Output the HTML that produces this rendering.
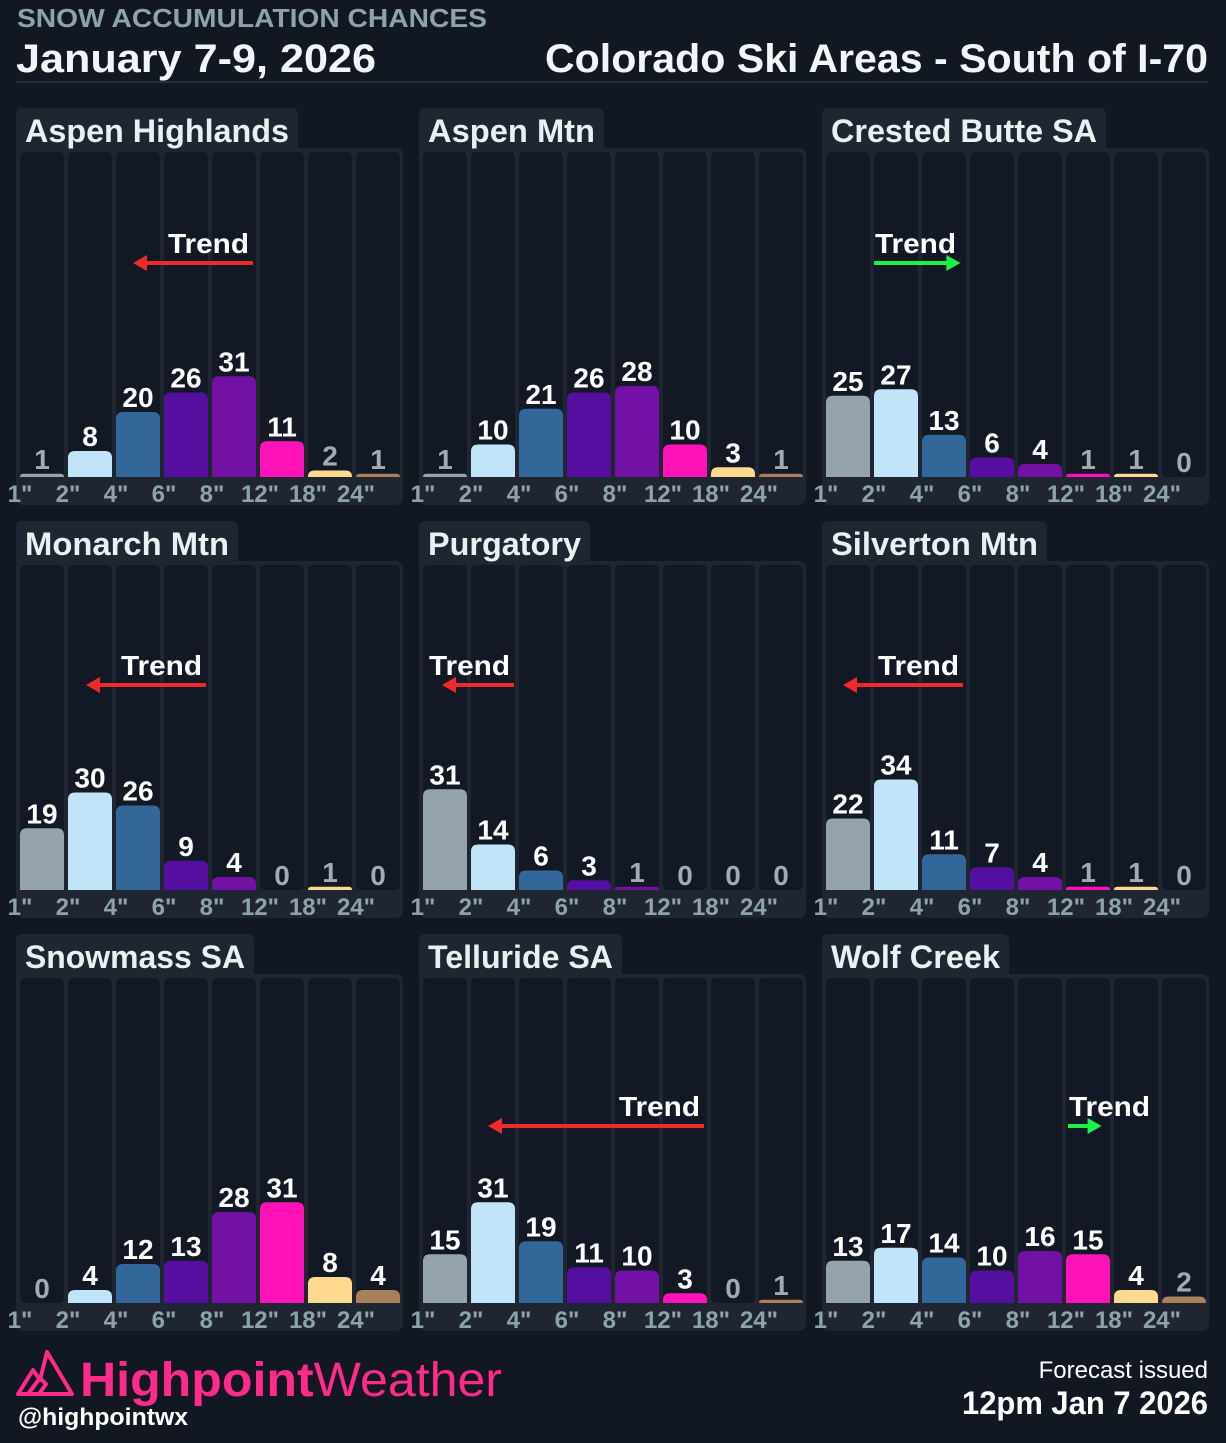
<!DOCTYPE html>
<html><head><meta charset="utf-8">
<style>
html,body{margin:0;padding:0;background:#111822;}
body{width:1226px;height:1438px;overflow:hidden;font-family:"Liberation Sans",sans-serif;}
svg text{font-family:"Liberation Sans",sans-serif;}
</style></head>
<body>
<svg id="chart" width="1226" height="1438" xmlns="http://www.w3.org/2000/svg">
  <rect x="0" y="0" width="1226" height="1438" fill="#111822"/>
  <text x="17" y="27" font-size="26" font-weight="bold" fill="#8ea2ac" textLength="470" lengthAdjust="spacingAndGlyphs">SNOW ACCUMULATION CHANCES</text>
  <text x="16" y="72" font-size="40" font-weight="bold" fill="#f2f5f7" textLength="360" lengthAdjust="spacingAndGlyphs">January 7-9, 2026</text>
  <text x="1208" y="72" font-size="40" font-weight="bold" fill="#f2f5f7" text-anchor="end" textLength="663" lengthAdjust="spacingAndGlyphs">Colorado Ski Areas - South of I-70</text>
  <rect x="16" y="81" width="1192" height="2" fill="#252e3a"/>
  <g id="panels"></g>
  <g>
    <path d="M18,1394 L33,1370 L40,1380 L47,1352 L72,1394 Z M28,1394 L40,1378 L46,1384 L39,1394" fill="none" stroke="#ff2a8a" stroke-width="4" stroke-linejoin="round"/>
    <text x="80" y="1396" font-size="48" fill="#ff2a8a" textLength="422" lengthAdjust="spacingAndGlyphs"><tspan font-weight="bold">Highpoint</tspan><tspan>Weather</tspan></text>
  </g>
  <text x="18" y="1425" font-size="24" font-weight="bold" fill="#ffffff" textLength="170" lengthAdjust="spacingAndGlyphs">@highpointwx</text>
  <text x="1208" y="1378" font-size="24" fill="#ffffff" text-anchor="end">Forecast issued</text>
  <text x="1208" y="1414" font-size="32" font-weight="bold" fill="#ffffff" text-anchor="end" textLength="246" lengthAdjust="spacingAndGlyphs">12pm Jan 7 2026</text>
</svg>
<script>
const categories = ['1"','2"','4"','6"','8"','12"','18"','24"'];
const areaNames = ["Aspen Highlands","Aspen Mtn","Crested Butte SA","Monarch Mtn","Purgatory","Silverton Mtn","Snowmass SA","Telluride SA","Wolf Creek"];
const aspenHighlands = [1,8,20,26,31,11,2,1];
const aspenMtn = [1,10,21,26,28,10,3,1];
const crestedButte = [25,27,13,6,4,1,1,0];
const monarch = [19,30,26,9,4,0,1,0];
const purgatory = [31,14,6,3,1,0,0,0];
const silverton = [22,34,11,7,4,1,1,0];
const snowmass = [0,4,12,13,28,31,8,4];
const telluride = [15,31,19,11,10,3,0,1];
const wolfCreek = [13,17,14,10,16,15,4,2];
const seriesValues = [aspenHighlands,aspenMtn,crestedButte,monarch,purgatory,silverton,snowmass,telluride,wolfCreek];
// trend direction: -1 = toward less snow, 1 = toward more, 0 = none
const trendDirection = [-1,0,1,-1,-1,-1,0,-1,1];
const trendLength = [2.5,0,1.8,2.5,1.5,2.5,0,4.5,0.7];
const colors = ["#95a3ad","#c2e4f8","#336699","#540fa0","#7310a6","#ff12b8","#ffd98f","#a8805a"];

const svg = document.getElementById('panels');
const NS = "http://www.w3.org/2000/svg";
const colX = [16,419,822];
const rowY = [108,521,934];
const tabW = [282,185,284,222,171,225,238,203,187];
const unit = 3.25;
const pitch = 48;
function mk(tag, attrs){ const e=document.createElementNS(NS,tag); for(const k in attrs) e.setAttribute(k,attrs[k]); return e; }
function xScale(px,i){ return px+4+i*pitch; }
function yScale(base,v){ return base - v*unit; }
const trendPos = [
  {ty:136, ax:237}, null, {ty:136, ax:52}, {ty:145, ax:190}, {ty:145, ax:95},
  {ty:145, ax:141}, null, {ty:173, ax:285}, {ty:173, ax:246}
];

areaNames.forEach((name, p) => {
  const px = colX[p%3], ty = rowY[Math.floor(p/3)];
  const bodyTop = ty+40, base = ty+369, bodyBot = ty+397;
  const g = mk('g',{});
  
  
  svg.appendChild(g);
  const tw = tabW[p];
  const tab = mk('rect',{x:px,y:ty,width:tw,height:50,rx:6,fill:'#1f2632'});
  
  
  g.appendChild(tab);
  const body = mk('rect',{x:px,y:bodyTop,width:387,height:bodyBot-bodyTop,rx:7,fill:'#1f2632'});
  
  
  g.appendChild(body);
  const title = mk('text',{x:px+9,y:ty+34,'font-size':32,'font-weight':'bold',fill:'#e8f0f2',textLength:tw-18,lengthAdjust:'spacingAndGlyphs'});
  title.textContent = name;
  
  
  g.appendChild(title);
  const vals = seriesValues[p];
  categories.forEach((c,i) => {
    const x = xScale(px,i);
    const col = mk('rect',{x:x,y:bodyTop+4,width:44,height:base-bodyTop-4,rx:5,fill:'#131924'});
    
    
    g.appendChild(col);
  });
  categories.forEach((c,i) => {
    const x = xScale(px,i), v = vals[i];
    if (v > 0) {
      const top = yScale(base,v), h = base-top, r = Math.min(7,h);
      const d = `M${x},${base} L${x},${top+r} Q${x},${top} ${x+r},${top} L${x+44-r},${top} Q${x+44},${top} ${x+44},${top+r} L${x+44},${base} Z`;
      const bar = mk('path',{d:d,fill:colors[i]});
      
      
      g.appendChild(bar);
    }
    const lbl = mk('text',{x:x+22,y:yScale(base,v)-5,'font-size':28,'font-weight':'bold','text-anchor':'middle',fill: v<=2 ? '#a3abb2' : '#ffffff'});
    lbl.textContent = v;
    
    
    g.appendChild(lbl);
    const ax = mk('text',{x:x,y:base+25,'font-size':24,'font-weight':'bold','text-anchor':'middle',fill:'#8ea2ac'});
    ax.textContent = c;
    
    
    g.appendChild(ax);
  });
  const td = trendDirection[p];
  if (td !== 0) {
    const tp = trendPos[p];
    const start = px + tp.ax;
    const end = start + td*trendLength[p]*pitch;
    const col = td < 0 ? '#f02a2a' : '#1ef04a';
    const ay = ty + tp.ty + 19;
    const tt = mk('text',{x: td<0 ? start-4 : start+1, y: ty+tp.ty+9,'font-size':28,'font-weight':'bold',fill:'#ffffff','text-anchor': td<0 ? 'end':'start',textLength:81,lengthAdjust:'spacingAndGlyphs'});
    tt.textContent = 'Trend';
    
    
    g.appendChild(tt);
    const ln = mk('line',{x1:start,y1:ay,x2:end-td*10,y2:ay,stroke:col,'stroke-width':4});
    
    
    g.appendChild(ln);
    const hd = mk('polygon',{points:`${end},${ay} ${end-td*14},${ay-8} ${end-td*14},${ay+8}`,fill:col});
    
    
    g.appendChild(hd);
  }
});
</script>
</body></html>
